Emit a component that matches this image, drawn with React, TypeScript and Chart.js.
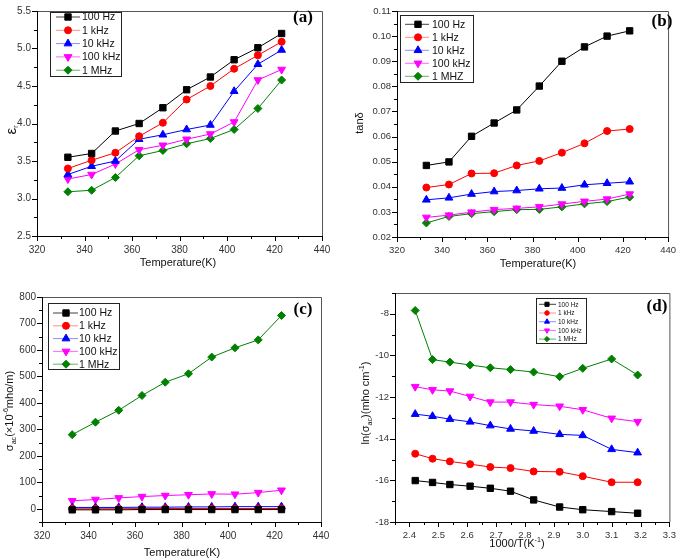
import React, { useEffect, useRef } from 'react';
import { Chart, registerables } from 'chart.js';
Chart.register(...registerables);

// ---------- data ----------
const temperatureK = [333, 343, 353, 363, 373, 383, 393, 403, 413, 423];
const inverseT = [2.42, 2.48, 2.54, 2.61, 2.68, 2.75, 2.83, 2.92, 3.0, 3.1, 3.19];

const freqLabels = ['100 Hz', '1 kHz', '10 kHz', '100 kHz', '1 MHz'];
const freqLabelsB = ['100 Hz', '1 kHz', '10 kHz', '100 kHz', '1 MHZ'];

const epsR100Hz = [3.55, 3.6, 3.9, 4.0, 4.21, 4.45, 4.62, 4.85, 5.01, 5.2];
const epsR1kHz = [3.4, 3.51, 3.61, 3.83, 4.01, 4.32, 4.5, 4.73, 4.91, 5.09];
const epsR10kHz = [3.32, 3.43, 3.5, 3.79, 3.85, 3.92, 3.98, 4.43, 4.79, 4.98];
const epsR100kHz = [3.26, 3.32, 3.46, 3.65, 3.71, 3.79, 3.86, 4.02, 4.58, 4.72];
const epsR1MHz = [3.09, 3.11, 3.28, 3.57, 3.64, 3.73, 3.8, 3.92, 4.2, 4.58];

const tan100Hz = [0.0485, 0.0499, 0.0601, 0.0654, 0.0706, 0.0801, 0.09, 0.0957, 0.1, 0.1021];
const tan1kHz = [0.0397, 0.0409, 0.0453, 0.0454, 0.0485, 0.0503, 0.0536, 0.0573, 0.0622, 0.063];
const tan10kHz = [0.0348, 0.0356, 0.0371, 0.0381, 0.0385, 0.0392, 0.0395, 0.0408, 0.0414, 0.042];
const tan100kHz = [0.0278, 0.0287, 0.0299, 0.0309, 0.0314, 0.032, 0.0331, 0.0342, 0.0351, 0.0371];
const tan1MHz = [0.0256, 0.0282, 0.0293, 0.0301, 0.0309, 0.031, 0.032, 0.0332, 0.0341, 0.0359];

const sig100Hz = [-4, -4, -4, -3, -3, -3, -3, -3, -3, -3];
const sig1kHz = [0, 0, 0, 1, 1, 1, 1, 1, 1, 1];
const sig10kHz = [5, 5, 5, 6, 6, 7, 7, 8, 8, 8];
const sig100kHz = [30, 35, 41, 46, 50, 53, 56, 55, 61, 70];
const sig1MHz = [280, 327, 372, 428, 478, 510, 573, 608, 638, 730];

const lnSig100Hz = [-16.01, -16.1, -16.2, -16.28, -16.38, -16.52, -16.94, -17.28, -17.41, -17.5, -17.58];
const lnSig1kHz = [-14.72, -14.96, -15.09, -15.22, -15.36, -15.41, -15.57, -15.59, -15.8, -16.09, -16.09];
const lnSig10kHz = [-12.82, -12.92, -13.06, -13.19, -13.37, -13.53, -13.63, -13.79, -13.84, -14.51, -14.67];
const lnSig100kHz = [-11.5, -11.65, -11.71, -11.97, -12.24, -12.24, -12.36, -12.44, -12.61, -13.02, -13.18];
const lnSig1MHz = [-7.84, -10.2, -10.32, -10.46, -10.59, -10.68, -10.8, -11.02, -10.62, -10.17, -10.94];

// ---------- ticks ----------
const tempTicks = [320, 340, 360, 380, 400, 420, 440];
const aYTicks = [2.5, 3.0, 3.5, 4.0, 4.5, 5.0, 5.5];
const bYTicks = [0.02, 0.03, 0.04, 0.05, 0.06, 0.07, 0.08, 0.09, 0.1, 0.11];
const cYTicks = [0, 100, 200, 300, 400, 500, 600, 700, 800];
const dXTicks = [2.4, 2.5, 2.6, 2.7, 2.8, 2.9, 3.0, 3.1, 3.2, 3.3];
const dYTicks = [-18, -16, -14, -12, -10, -8];

// ---------- styles ----------
const seriesColors = ['#000000', '#ff0000', '#0000ff', '#ff00ff', '#008000'];
const legendLineColors = ['rgba(0,0,0,0.75)', 'rgba(255,0,0,0.45)', 'rgba(0,0,255,0.45)', 'rgba(255,0,255,0.6)', 'rgba(0,128,0,0.6)'];
const markerStyles = ['rect', 'circle', 'triangle', 'triangleDown', 'rectRot'];
const markerRadii = [4.5, 3.5, 4.5, 4.5, 4];
const FONT = '"Liberation Sans", Arial, sans-serif';

type Part = { t: string; m?: 'sub' | 'sup'; s?: number };

function drawMarker(ctx: CanvasRenderingContext2D, style: string, x: number, y: number, r: number, color: string) {
  ctx.save();
  ctx.fillStyle = color;
  ctx.strokeStyle = color;
  ctx.lineWidth = 1;
  ctx.beginPath();
  if (style === 'rect') {
    const s = r * Math.SQRT1_2;
    ctx.rect(x - s, y - s, 2 * s, 2 * s);
  } else if (style === 'circle') {
    ctx.arc(x, y, r, 0, Math.PI * 2);
  } else if (style === 'triangle' || style === 'triangleDown') {
    let rad = style === 'triangle' ? 0 : Math.PI;
    for (let i = 0; i < 3; i++) {
      const px = x + Math.sin(rad) * r;
      const py = y - Math.cos(rad) * r;
      if (i === 0) ctx.moveTo(px, py); else ctx.lineTo(px, py);
      rad += (2 * Math.PI) / 3;
    }
    ctx.closePath();
  } else {
    ctx.moveTo(x, y - r);
    ctx.lineTo(x + r, y);
    ctx.lineTo(x, y + r);
    ctx.lineTo(x - r, y);
    ctx.closePath();
  }
  ctx.fill();
  ctx.stroke();
  ctx.restore();
}

function drawParts(ctx: CanvasRenderingContext2D, parts: Part[], cx: number, cy: number, size: number, rotate: boolean) {
  ctx.save();
  ctx.translate(cx, cy);
  if (rotate) ctx.rotate(-Math.PI / 2);
  const fontFor = (p: Part) => `${(p.s ?? size) * (p.m ? 0.65 : 1)}px ${FONT}`;
  let total = 0;
  const widths = parts.map((p) => {
    ctx.font = fontFor(p);
    const w = ctx.measureText(p.t).width;
    total += w;
    return w;
  });
  let x = -total / 2;
  ctx.textBaseline = 'middle';
  ctx.textAlign = 'left';
  ctx.fillStyle = '#111';
  parts.forEach((p, i) => {
    ctx.font = fontFor(p);
    const dy = p.m === 'sub' ? size * 0.35 : p.m === 'sup' ? -size * 0.38 : 0;
    ctx.fillText(p.t, x, dy);
    x += widths[i];
  });
  ctx.restore();
}

type PanelCfg = {
  left: number; top: number; w: number; h: number;
  area: { l: number; t: number; r: number; b: number };
  xMin: number; xMax: number; xTicks: number[]; xMajor: number; xMinor: number; xDec: number;
  yMin: number; yMax: number; yTicks: number[]; yMajor: number; yMinor: number; yDec: number;
  xs: number[]; series: number[][]; labels: string[];
  tickFont: number;
  legend: { x: number; y: number; w: number; h: number; row0: number; dy: number; l0: number; l1: number; mx: number; tx: number; font: number; mScale: number };
  tag: { t: string; x: number; y: number };
  xTitle: { parts: Part[]; x: number; y: number };
  yTitle: { parts: Part[]; x: number; y: number };
};

const panels: PanelCfg[] = [
  {
    left: 0, top: 0, w: 340, h: 270,
    area: { l: 37, t: 5, r: 322, b: 236 },
    xMin: 320, xMax: 440, xTicks: tempTicks, xMajor: 20, xMinor: 10, xDec: 0,
    yMin: 2.5, yMax: 5.5, yTicks: aYTicks, yMajor: 0.5, yMinor: 0.25, yDec: 1,
    xs: temperatureK, series: [epsR100Hz, epsR1kHz, epsR10kHz, epsR100kHz, epsR1MHz], labels: freqLabels,
    tickFont: 10,
    legend: { x: 50, y: 12, w: 71, h: 64, row0: 17, dy: 13.3, l0: 56, l1: 80, mx: 68, tx: 82, font: 10.5, mScale: 1 },
    tag: { t: '(a)', x: 303, y: 18 },
    xTitle: { parts: [{ t: 'Temperature(K)' }], x: 178, y: 263 },
    yTitle: { parts: [{ t: 'ε', s: 15 }, { t: 'r', m: 'sub' }], x: 12, y: 130 },
  },
  {
    left: 340, top: 0, w: 345, h: 270,
    area: { l: 57, t: 11, r: 336, b: 237 },
    xMin: 320, xMax: 440, xTicks: tempTicks, xMajor: 20, xMinor: 10, xDec: 0,
    yMin: 0.02, yMax: 0.11, yTicks: bYTicks, yMajor: 0.01, yMinor: 0.005, yDec: 2,
    xs: temperatureK, series: [tan100Hz, tan1kHz, tan10kHz, tan100kHz, tan1MHz], labels: freqLabelsB,
    tickFont: 9.5,
    legend: { x: 60, y: 15, w: 73, h: 67, row0: 24.3, dy: 13, l0: 65, l1: 89, mx: 78, tx: 92, font: 10.5, mScale: 1 },
    tag: { t: '(b)', x: 322, y: 22 },
    xTitle: { parts: [{ t: 'Temperature(K)' }], x: 198, y: 264 },
    yTitle: { parts: [{ t: 'tanδ' }], x: 20, y: 123 },
  },
  {
    left: 0, top: 270, w: 340, h: 288,
    area: { l: 42, t: 27, r: 321, b: 252 },
    xMin: 320, xMax: 440, xTicks: tempTicks, xMajor: 20, xMinor: 10, xDec: 0,
    yMin: -50, yMax: 800, yTicks: cYTicks, yMajor: 100, yMinor: 50, yDec: 0,
    xs: temperatureK, series: [sig100Hz, sig1kHz, sig10kHz, sig100kHz, sig1MHz], labels: freqLabels,
    tickFont: 10,
    legend: { x: 48, y: 33, w: 71, h: 66, row0: 43, dy: 12.8, l0: 53, l1: 78, mx: 66, tx: 79, font: 10.5, mScale: 1 },
    tag: { t: '(c)', x: 303, y: 40 },
    xTitle: { parts: [{ t: 'Temperature(K)' }], x: 182, y: 283 },
    yTitle: { parts: [{ t: 'σ' }, { t: 'ac', m: 'sub' }, { t: '(×10' }, { t: '-6', m: 'sup' }, { t: 'mho/m)' }], x: 10, y: 141 },
  },
  {
    left: 340, top: 270, w: 345, h: 288,
    area: { l: 55, t: 23, r: 337, b: 252 },
    xMin: 2.35, xMax: 3.3, xTicks: dXTicks, xMajor: 0.1, xMinor: 0.05, xDec: 1,
    yMin: -18, yMax: -7, yTicks: dYTicks, yMajor: 2, yMinor: 1, yDec: 0,
    xs: inverseT, series: [lnSig100Hz, lnSig1kHz, lnSig10kHz, lnSig100kHz, lnSig1MHz], labels: freqLabels,
    tickFont: 9.5,
    legend: { x: 196, y: 28, w: 50, h: 45, row0: 34.3, dy: 8.7, l0: 199, l1: 216, mx: 207, tx: 218, font: 6.5, mScale: 0.65 },
    tag: { t: '(d)', x: 317, y: 37 },
    xTitle: { parts: [{ t: '1000/T(K' }, { t: '-1', m: 'sup' }, { t: ')' }], x: 177, y: 274 },
    yTitle: { parts: [{ t: 'ln(σ' }, { t: 'ac', m: 'sub' }, { t: ')(mho cm' }, { t: '-1', m: 'sup' }, { t: ')' }], x: 26, y: 133 },
  },
];

function makeDecor(cfg: PanelCfg) {
  return {
    id: 'decor',
    afterDraw(chart: any) {
      const ctx: CanvasRenderingContext2D = chart.ctx;
      const sx = chart.scales.x;
      const sy = chart.scales.y;
      const L = sx.left;
      const R = sx.right;
      const T = sy.top;
      const B = sy.bottom;
      ctx.save();
      ctx.setLineDash([]);
      // frame
      ctx.lineWidth = 1;
      ctx.strokeStyle = '#555';
      ctx.beginPath();
      ctx.moveTo(L, T + 0.5);
      ctx.lineTo(R + 0.5, T + 0.5);
      ctx.lineTo(R + 0.5, B);
      ctx.stroke();
      ctx.strokeStyle = '#000';
      ctx.beginPath();
      ctx.moveTo(L + 0.5, T);
      ctx.lineTo(L + 0.5, B + 0.5);
      ctx.lineTo(R + 0.5, B + 0.5);
      ctx.stroke();
      // ticks
      const isMajor = (v: number, m: number) => Math.abs(v / m - Math.round(v / m)) < 1e-6;
      const nx = Math.round((cfg.xMax - cfg.xMin) / cfg.xMinor);
      ctx.beginPath();
      for (let i = 0; i <= nx; i++) {
        const v = cfg.xMin + i * cfg.xMinor;
        const px = Math.round(sx.getPixelForValue(v)) + 0.5;
        const len = isMajor(v, cfg.xMajor) ? 5 : 3;
        ctx.moveTo(px, B);
        ctx.lineTo(px, B + len);
      }
      const ny = Math.round((cfg.yMax - cfg.yMin) / cfg.yMinor);
      for (let i = 0; i <= ny; i++) {
        const v = cfg.yMin + i * cfg.yMinor;
        const py = Math.round(sy.getPixelForValue(v)) + 0.5;
        const len = isMajor(v, cfg.yMajor) ? 5 : 3;
        ctx.moveTo(L, py);
        ctx.lineTo(L - len, py);
      }
      ctx.stroke();
      // legend
      const lg = cfg.legend;
      ctx.strokeStyle = '#222';
      ctx.lineWidth = 1;
      ctx.strokeRect(lg.x + 0.5, lg.y + 0.5, lg.w, lg.h);
      cfg.labels.forEach((lab, i) => {
        const y = lg.row0 + i * lg.dy;
        ctx.strokeStyle = legendLineColors[i];
        ctx.lineWidth = 1;
        ctx.beginPath();
        ctx.moveTo(lg.l0, y);
        ctx.lineTo(lg.l1, y);
        ctx.stroke();
        drawMarker(ctx, markerStyles[i], lg.mx, y, markerRadii[i] * lg.mScale, seriesColors[i]);
        ctx.fillStyle = '#111';
        ctx.font = `${lg.font}px ${FONT}`;
        ctx.textAlign = 'left';
        ctx.textBaseline = 'middle';
        ctx.fillText(lab, lg.tx, y + 0.5);
      });
      // tag
      ctx.fillStyle = '#000';
      ctx.font = 'bold 17px "Liberation Serif", "Times New Roman", serif';
      ctx.textAlign = 'center';
      ctx.textBaseline = 'middle';
      ctx.fillText(cfg.tag.t, cfg.tag.x, cfg.tag.y);
      // titles
      drawParts(ctx, cfg.xTitle.parts, cfg.xTitle.x, cfg.xTitle.y, 11, false);
      drawParts(ctx, cfg.yTitle.parts, cfg.yTitle.x, cfg.yTitle.y, 11, true);
      ctx.restore();
    },
  };
}

function Panel({ cfg }: { cfg: PanelCfg }) {
  const ref = useRef<HTMLCanvasElement>(null);
  useEffect(() => {
    if (!ref.current) return;
    const datasets = cfg.series.map((ys, i) => ({
      label: cfg.labels[i],
      data: ys.map((y, j) => ({ x: cfg.xs[j], y })),
      borderColor: seriesColors[i],
      backgroundColor: seriesColors[i],
      borderWidth: 1,
      pointStyle: markerStyles[i] === 'triangleDown' ? 'triangle' : markerStyles[i],
      pointRotation: markerStyles[i] === 'triangleDown' ? 180 : 0,
      pointRadius: markerRadii[i],
      pointBorderWidth: 1,
      pointBorderColor: seriesColors[i],
      pointBackgroundColor: seriesColors[i],
      tension: 0,
    }));
    const tickFont = { family: FONT, size: cfg.tickFont, lineHeight: 1 };
    const chart = new Chart(ref.current, {
      type: 'line',
      data: { datasets: datasets as any },
      options: {
        responsive: false,
        animation: false,
        devicePixelRatio: 1,
        layout: { padding: { top: cfg.area.t, right: cfg.w - cfg.area.r, left: 0, bottom: 0 } },
        plugins: { legend: { display: false }, tooltip: { enabled: false } },
        scales: {
          x: {
            type: 'linear',
            min: cfg.xMin,
            max: cfg.xMax,
            grid: { display: false, drawTicks: false },
            border: { display: false },
            afterBuildTicks: (s: any) => { s.ticks = cfg.xTicks.map((value) => ({ value })); },
            afterFit: (s: any) => { s.height = cfg.h - cfg.area.b; },
            ticks: {
              autoSkip: false, maxRotation: 0, padding: 9, color: '#333', font: tickFont,
              callback: (v: any) => Number(v).toFixed(cfg.xDec),
            },
          },
          y: {
            type: 'linear',
            min: cfg.yMin,
            max: cfg.yMax,
            grid: { display: false, drawTicks: false },
            border: { display: false },
            afterBuildTicks: (s: any) => { s.ticks = cfg.yTicks.map((value) => ({ value })); },
            afterFit: (s: any) => { s.width = cfg.area.l; },
            ticks: {
              autoSkip: false, padding: 6, color: '#333', font: tickFont,
              callback: (v: any) => Number(v).toFixed(cfg.yDec),
            },
          },
        },
      },
      plugins: [makeDecor(cfg)],
    });
    return () => chart.destroy();
  }, []);
  return (
    <canvas
      ref={ref}
      width={cfg.w}
      height={cfg.h}
      style={{ position: 'absolute', left: cfg.left, top: cfg.top, width: cfg.w, height: cfg.h, display: 'block' }}
    />
  );
}

export default function App() {
  return (
    <div style={{ position: 'fixed', left: 0, top: 0, width: 685, height: 558, background: '#fff', overflow: 'hidden' }}>
      {panels.map((p, i) => (
        <Panel key={i} cfg={p} />
      ))}
    </div>
  );
}
